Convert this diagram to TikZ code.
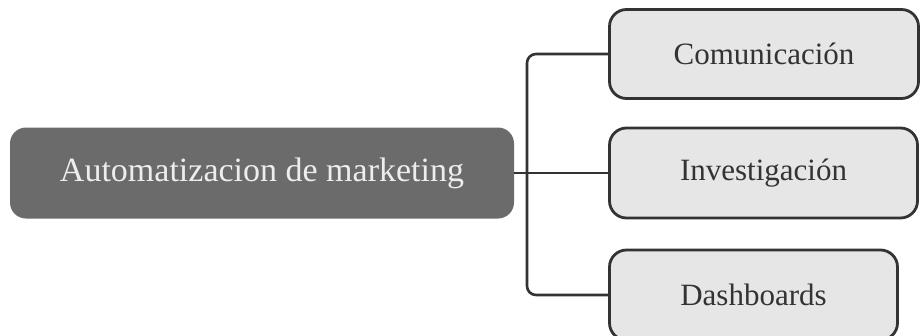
\documentclass[tikz,border=0pt]{standalone}
\usepackage{fontspec}
\setmainfont{Liberation Serif}
\definecolor{mainfill}{HTML}{6B6B6B}
\definecolor{childfill}{HTML}{E6E6E6}
\definecolor{edgecol}{HTML}{333333}
\begin{document}
\begin{tikzpicture}[x=1pt,y=-1pt,
  mainbox/.style={rectangle, rounded corners=16pt, fill=mainfill, draw=none,
    text=white!93!black, font=\fontsize{34}{40}\selectfont, inner sep=0pt},
  childbox/.style={rectangle, rounded corners=17pt, fill=childfill, draw=edgecol,
    line width=2.8pt, text=black!80, font=\fontsize{31}{36}\selectfont, inner sep=0pt},
  link/.style={draw=edgecol, line width=2.6pt}]
\useasboundingbox (0,0) rectangle (921,335);
\node[mainbox, minimum width=504pt, minimum height=91pt] (main) at (262,173) {Automatizacion de marketing};
\node[childbox, minimum width=309pt, minimum height=89pt] (c1) at (764,54) {Comunicación};
\node[childbox, minimum width=308pt, minimum height=90pt] (c2) at (763.5,173) {Investigación};
\node[childbox, minimum width=288pt, minimum height=90pt] (c3) at (753.5,295) {Dashboards};
\coordinate (j) at (527,173);
\draw[link] (main.east) -- (c2.west);
\draw[link, rounded corners=9pt] (c1.west) -| (j) |- (c3.west);
\end{tikzpicture}
\end{document}
